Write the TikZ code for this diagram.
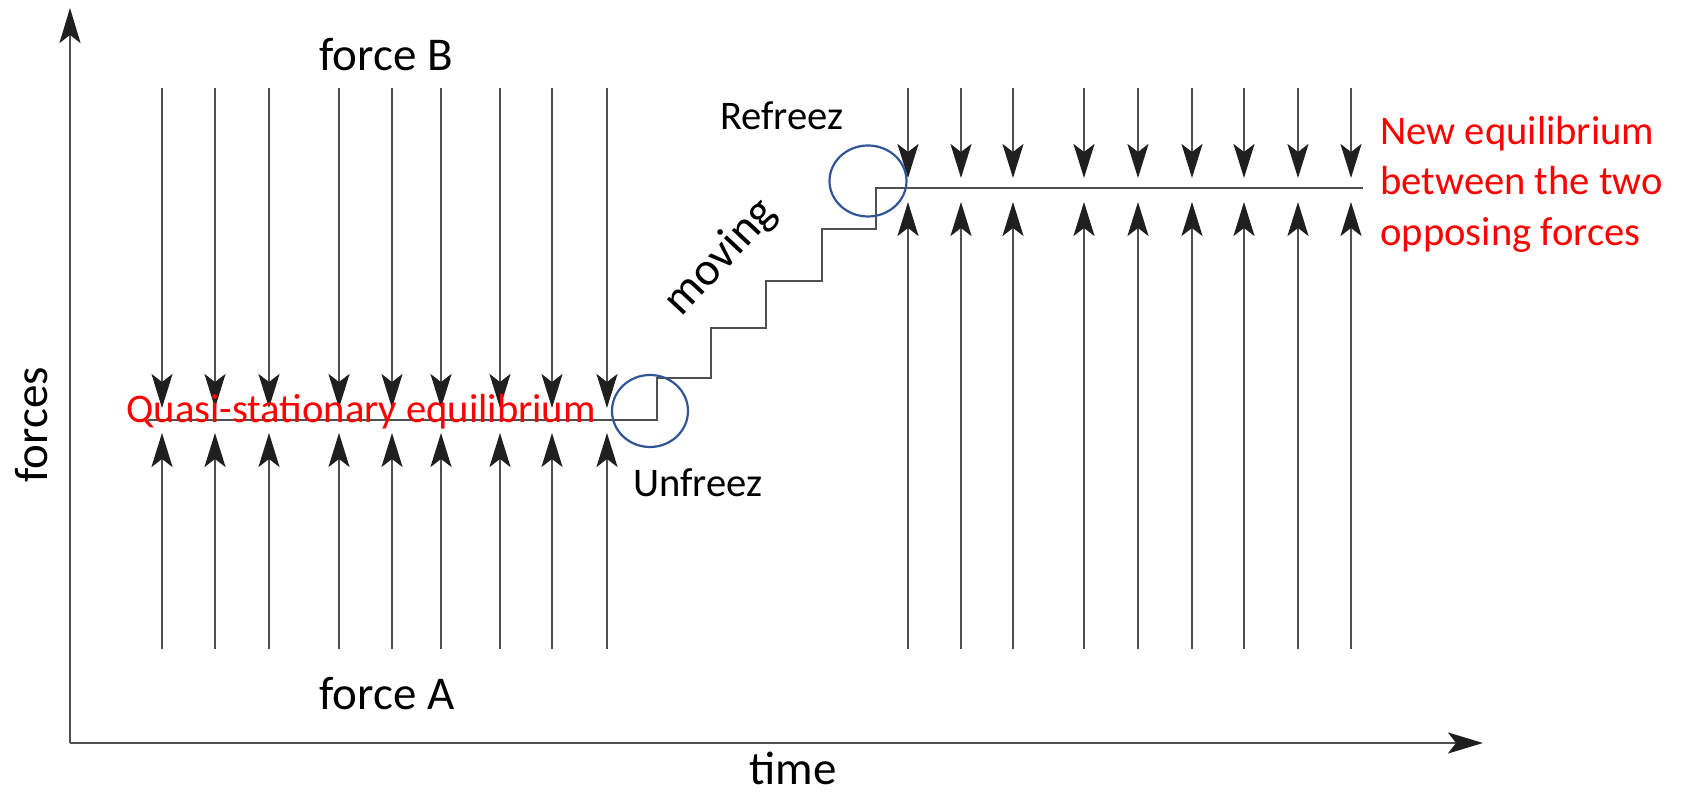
\documentclass[tikz,border=0pt]{standalone}
\usepackage{fontspec}
\setmainfont{Carlito}
\usetikzlibrary{arrows.meta,shapes.geometric}
\definecolor{linegray}{RGB}{80,80,80}
\definecolor{circblue}{RGB}{47,85,151}
\begin{document}
\begin{tikzpicture}[x=0.5pt,y=-0.5pt,
  axisline/.style={draw=linegray,line width=1.2pt,-{Stealth[length=17.5pt,width=10.5pt,inset=4pt,color=black!88]}},
  forcearrow/.style={draw=linegray,line width=1.1pt,-{Stealth[length=17pt,width=10.5pt,inset=4pt,color=black!88]}},
  eqline/.style={draw=linegray,line width=1.3pt},
  freezering/.style={draw=circblue,line width=1.1pt,ellipse,inner sep=0pt},
  bigtext/.style={font=\fontsize{23.5}{28}\selectfont,inner sep=0pt,anchor=base west},
  smalltext/.style={font=\fontsize{20.3}{25}\selectfont,inner sep=0pt,anchor=base west},
  redtext/.style={smalltext,text=red}]
\useasboundingbox (0,0) rectangle (1694,795);
% axes
\coordinate (O) at (70,743);
\coordinate (ytip) at (70,8);
\coordinate (xtip) at (1483,743);
\draw[axisline] (O) -- (ytip);
\draw[axisline] (O) -- (xtip);
% left group of forces
\foreach \x [count=\i] in {162,215,269,339,392,441,500,552,607}{
  \coordinate (lbtop\i) at (\x,88);
  \coordinate (lbtip\i) at (\x,408);
  \coordinate (labot\i) at (\x,649);
  \coordinate (latip\i) at (\x,433);
  \draw[forcearrow] (lbtop\i) -- (lbtip\i);
  \draw[forcearrow] (labot\i) -- (latip\i);
}
% right group of forces
\foreach \x [count=\i] in {908,961,1013,1084,1138,1192,1244,1298,1351}{
  \coordinate (rbtop\i) at (\x,88);
  \coordinate (rbtip\i) at (\x,178);
  \coordinate (rabot\i) at (\x,649);
  \coordinate (ratip\i) at (\x,202);
  \draw[forcearrow] (rbtop\i) -- (rbtip\i);
  \draw[forcearrow] (rabot\i) -- (ratip\i);
}
% equilibrium line with staircase
\coordinate (eqstart) at (148,420);
\coordinate (eqend) at (1363,188);
\draw[eqline] (eqstart) -- (657,420) -- (657,378) -- (711,378) -- (711,328)
  -- (766,328) -- (766,281) -- (822,281) -- (822,229) -- (876,229) -- (876,188) -- (eqend);
% circles
\node[freezering,minimum width=38pt,minimum height=36pt] (unfreezring) at (650,411) {};
\node[freezering,minimum width=38.5pt,minimum height=35.5pt] (refreezring) at (868,181) {};
% labels
\node[bigtext] (forceB) at (319,71) {force B};
\node[bigtext] (forceA) at (319,710) {force A};
\node[bigtext] (time) at (749,785) {time};
\node[bigtext,rotate=90] (forces) at (47,483) {forces};
\node[bigtext,anchor=center,rotate=47] (moving) at (721,258) {moving};
\node[smalltext] (refreez) at (720,130) {Refreez};
\node[smalltext] (unfreez) at (633,497) {Unfreez};
\node[redtext] (quasi) at (126,423) {Quasi-stationary equilibrium};
\node[redtext] (new1) at (1380,145) {New equilibrium};
\node[redtext] (new2) at (1380,195) {between the two};
\node[redtext] (new3) at (1380,246) {opposing forces};
\end{tikzpicture}
\end{document}
